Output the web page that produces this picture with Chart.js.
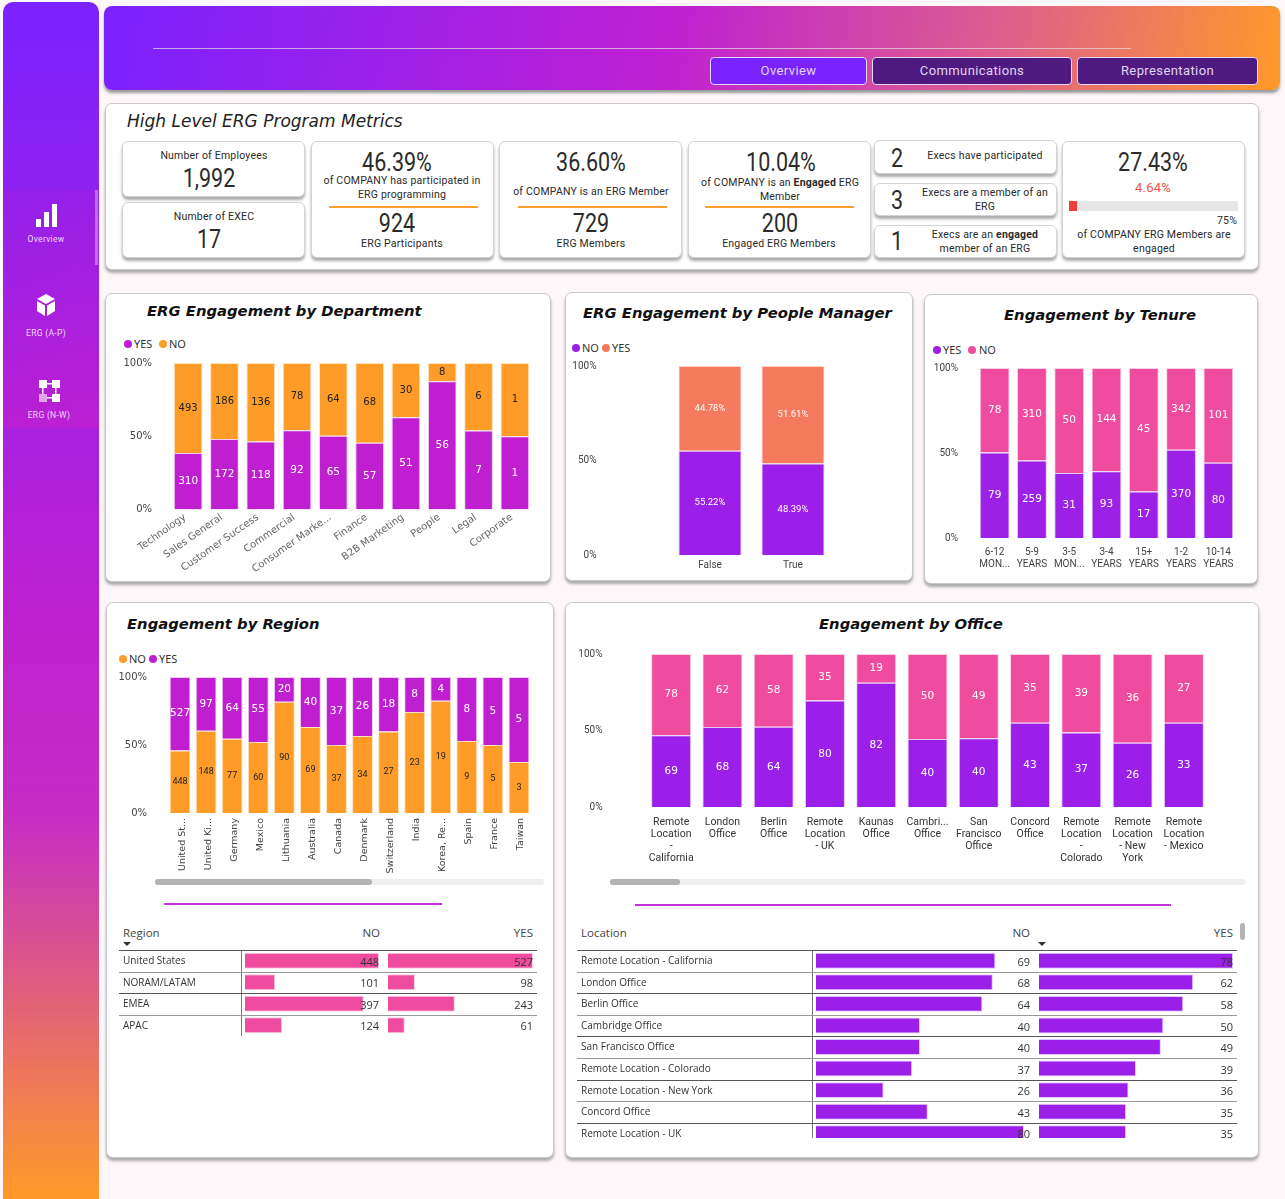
<!DOCTYPE html>
<html>
<head>
<meta charset="utf-8">
<title>ERG Overview</title>
<script src="https://cdn.jsdelivr.net/npm/chart.js@4/dist/chart.umd.min.js"></script>
<style>
    html, body { margin: 0; padding: 0; background: #fdf7f9; }
    #page { position: relative; width: 1285px; height: 1199px; overflow: hidden; font-family: Roboto, sans-serif; color: #222; }
    #page > * { position: absolute; }
    .side { left: 3px; top: 2px; width: 96px; height: 1197px; border-radius: 10px 10px 0 0; background: linear-gradient(180deg, #7a22ff 0%, #bf20d0 52%, #c72cc4 68%, #ff9a28 100%); }
    .sidepatch { left: 3px; top: 190px; width: 96px; height: 238px; background: linear-gradient(165deg, #9320ea, #bd1fd2); }
    .sidethumb { left: 95px; top: 190px; width: 3px; height: 75px; background: rgba(255,255,255,.35); }
    .sidetxt { font-size: 8.5px; letter-spacing: .3px; color: #f0d8fa; transform: translate(-50%, -50%); white-space: nowrap; }
    .head { left: 104px; top: 6px; width: 1176px; height: 84px; border-radius: 8px; background: linear-gradient(100deg, #7a22ff 0%, #bf20d2 48%, #dd5f8c 76%, #ff9a28 100%); box-shadow: 0 3px 3px #999; }
    .btn { top: 57px; height: 26px; border: 1px solid #e4d8f4; border-radius: 4px; background: #4f1a80; color: #e2d4f2; font-size: 13px; letter-spacing: .4px; line-height: 26px; text-align: center; }
    .panel { background: #fff; border: 1px solid #c8c8c8; border-radius: 7px; box-shadow: 0 3px 3px #aaa; box-sizing: border-box; }
    .card { background: #fff; border: 1px solid #d4d4d4; border-radius: 6px; box-shadow: 0 3px 3px #aaa; box-sizing: border-box; }
    .t { transform: translate(-50%, -50%); white-space: nowrap; font-size: 10.5px; letter-spacing: .2px; color: #2a2a2a; }
    .big { font-size: 25px; letter-spacing: 0; transform: translate(-50%, -50%) scaleX(.86); color: #2b2b2b; }
    .rule { height: 2px; background: #ff9c30; }
    .title { font-family: "DejaVu Sans", sans-serif; font-weight: bold; font-style: italic; font-size: 14.8px; color: #111; transform: translateY(-50%); white-space: nowrap; }
    .dot { width: 8px; height: 8px; border-radius: 50%; transform: translate(-50%, -50%); }
    .leg { font-family: "Noto Sans", sans-serif; font-size: 11px; color: #333; transform: translateY(-50%); }
    .cell { font-family: "Open Sans", sans-serif; font-size: 10px; color: #333; transform: translateY(-50%); white-space: nowrap; }
    .hcell { font-family: "Open Sans", sans-serif; font-size: 11.5px; color: #444; transform: translateY(-50%); white-space: nowrap; }
    .line { background: #666; height: 1px; }
    .vline { background: #777; width: 1px; }
    .pline { height: 2px; background: #c62fdc; }
    .track { height: 6px; background: #eeeeee; border-radius: 3px; }
    .thumb { height: 6px; background: #b3b3b3; border-radius: 3px; }
    .sort { width: 0; height: 0; border-left: 4px solid transparent; border-right: 4px solid transparent; border-top: 4px solid #333; }
    canvas { display: block; }
</style>
</head>
<body>
<div id="page">
    <div class="side"></div>
    <div class="sidepatch"></div>
    <div class="sidethumb"></div>
    <svg style="left:36px;top:204px" width="22" height="23" viewBox="0 0 22 23" fill="#fff"><rect x="0" y="15" width="5" height="8"/><rect x="8" y="8" width="5" height="15"/><rect x="16" y="0" width="5" height="23"/></svg>
    <div class="sidetxt" style="left:46px;top:239px">Overview</div>
    <svg style="left:37px;top:294px" width="18" height="22" viewBox="0 0 18 22" fill="#fff"><path d="M9 0l9 5-9 5-9-5z"/><path d="M0 7l8 4.6V22L0 17z"/><path d="M18 7l-8 4.6V22l8-5z"/></svg>
    <div class="sidetxt" style="left:46px;top:333px">ERG (A-P)</div>
    <svg style="left:39px;top:380px" width="21" height="22" viewBox="0 0 21 22" fill="#fff"><rect x="0" y="0" width="8" height="8"/><rect x="13" y="0" width="8" height="8"/><rect x="0" y="14" width="8" height="8" opacity=".6"/><rect x="13" y="14" width="8" height="8"/><rect x="8" y="3" width="5" height="1.5"/><rect x="8" y="17" width="5" height="1.5"/><rect x="3" y="8" width="1.5" height="6"/><rect x="16" y="8" width="1.5" height="6"/></svg>
    <div class="sidetxt" style="left:49px;top:415px">ERG (N-W)</div>

    <div class="head"></div>
    <div style="left:153px;top:48px;width:978px;height:1px;background:rgba(225,225,225,.7)"></div>
    <div class="btn" style="left:710px;width:155px;background:#7a22ff">Overview</div>
    <div class="btn" style="left:872px;width:198px">Communications</div>
    <div class="btn" style="left:1077px;width:179px">Representation</div>

    <div class="panel" style="left:105px;top:103px;width:1154px;height:167px"></div>
    <div style="left:127px;top:111px;font-family:'DejaVu Sans',sans-serif;font-style:italic;font-size:17px;color:#222;white-space:nowrap">High Level ERG Program Metrics</div>

    <div class="card" style="left:122px;top:141px;width:183px;height:56px"></div>
    <div class="t" style="left:214px;top:155px">Number of Employees</div>
    <div class="t big" style="left:209px;top:178px">1,992</div>
    <div class="card" style="left:122px;top:202px;width:183px;height:56px"></div>
    <div class="t" style="left:214px;top:216px">Number of EXEC</div>
    <div class="t big" style="left:209px;top:239px">17</div>

    <div class="card" style="left:311px;top:141px;width:183px;height:117px"></div>
    <div class="t big" style="left:397px;top:162px">46.39%</div>
    <div class="t" style="left:402px;top:180px">of COMPANY has participated in</div>
    <div class="t" style="left:402px;top:194px">ERG programming</div>
    <div class="rule" style="left:329px;top:206px;width:149px"></div>
    <div class="t big" style="left:397px;top:223px">924</div>
    <div class="t" style="left:402px;top:243px">ERG Participants</div>

    <div class="card" style="left:499px;top:141px;width:183px;height:117px"></div>
    <div class="t big" style="left:591px;top:162px">36.60%</div>
    <div class="t" style="left:591px;top:191px">of COMPANY is an ERG Member</div>
    <div class="rule" style="left:518px;top:206px;width:149px"></div>
    <div class="t big" style="left:591px;top:223px">729</div>
    <div class="t" style="left:591px;top:243px">ERG Members</div>

    <div class="card" style="left:688px;top:141px;width:183px;height:117px"></div>
    <div class="t big" style="left:781px;top:162px">10.04%</div>
    <div class="t" style="left:780px;top:182px">of COMPANY is an <b>Engaged</b> ERG</div>
    <div class="t" style="left:780px;top:196px">Member</div>
    <div class="rule" style="left:705px;top:206px;width:149px"></div>
    <div class="t big" style="left:780px;top:223px">200</div>
    <div class="t" style="left:779px;top:243px">Engaged ERG Members</div>

    <div class="card" style="left:874px;top:140px;width:183px;height:34px"></div>
    <div class="t big" style="left:897px;top:158px">2</div>
    <div class="t" style="left:985px;top:155px">Execs have participated</div>
    <div class="card" style="left:874px;top:183px;width:183px;height:33px"></div>
    <div class="t big" style="left:897px;top:200px">3</div>
    <div class="t" style="left:985px;top:192px">Execs are a member of an</div>
    <div class="t" style="left:985px;top:206px">ERG</div>
    <div class="card" style="left:874px;top:225px;width:183px;height:33px"></div>
    <div class="t big" style="left:897px;top:241px">1</div>
    <div class="t" style="left:985px;top:234px">Execs are an <b>engaged</b></div>
    <div class="t" style="left:985px;top:248px">member of an ERG</div>

    <div class="card" style="left:1062px;top:141px;width:183px;height:117px"></div>
    <div class="t big" style="left:1153px;top:162px">27.43%</div>
    <div class="t" style="left:1153px;top:187px;font-size:13px;color:#f0524a">4.64%</div>
    <div style="left:1069px;top:201px;width:169px;height:10px;background:#e6e6e6"></div>
    <div style="left:1069px;top:201px;width:8px;height:10px;background:#f03e3e"></div>
    <div class="t" style="left:1227px;top:220px">75%</div>
    <div class="t" style="left:1154px;top:234px">of COMPANY ERG Members are</div>
    <div class="t" style="left:1154px;top:248px">engaged</div>

    <div class="panel" style="left:105px;top:293px;width:446px;height:289px"></div>
    <div class="title" style="left:147px;top:310px">ERG Engagement by Department</div>
    <div class="dot" style="left:128px;top:344px;background:#bf1fd0"></div>
    <div class="leg" style="left:134px;top:343px">YES</div>
    <div class="dot" style="left:163px;top:344px;background:#ff9c27"></div>
    <div class="leg" style="left:169px;top:343px">NO</div>

    <div class="panel" style="left:565px;top:292px;width:348px;height:289px"></div>
    <div class="title" style="left:583px;top:312px">ERG Engagement by People Manager</div>
    <div class="dot" style="left:576px;top:348px;background:#9b1fe8"></div>
    <div class="leg" style="left:582px;top:347px">NO</div>
    <div class="dot" style="left:606px;top:348px;background:#f5795c"></div>
    <div class="leg" style="left:612px;top:347px">YES</div>

    <div class="panel" style="left:924px;top:294px;width:334px;height:290px"></div>
    <div class="title" style="left:1004px;top:314px">Engagement by Tenure</div>
    <div class="dot" style="left:937px;top:350px;background:#9d20e6"></div>
    <div class="leg" style="left:943px;top:349px">YES</div>
    <div class="dot" style="left:972px;top:350px;background:#ef4b9f"></div>
    <div class="leg" style="left:979px;top:349px">NO</div>

    <div class="panel" style="left:106px;top:602px;width:448px;height:556px"></div>
    <div class="title" style="left:127px;top:623px">Engagement by Region</div>
    <div class="dot" style="left:123px;top:659px;background:#ff9c27"></div>
    <div class="leg" style="left:129px;top:658px">NO</div>
    <div class="dot" style="left:153px;top:659px;background:#bf1fd0"></div>
    <div class="leg" style="left:159px;top:658px">YES</div>
    <div class="track" style="left:155px;top:879px;width:389px"></div>
    <div class="thumb" style="left:155px;top:879px;width:217px"></div>
    <div class="pline" style="left:164px;top:903px;width:278px"></div>

    <div class="panel" style="left:565px;top:602px;width:694px;height:556px"></div>
    <div class="title" style="left:819px;top:623px">Engagement by Office</div>
    <div class="track" style="left:610px;top:879px;width:636px"></div>
    <div class="thumb" style="left:610px;top:879px;width:70px"></div>
    <div class="pline" style="left:635px;top:904px;width:536px"></div>

    <div class="hcell" style="left:123px;top:932px">Region</div>
    <div class="hcell" style="right:905px;top:932px">NO</div>
    <div class="hcell" style="right:752px;top:932px">YES</div>
    <div class="sort" style="left:123px;top:942px"></div>
    <div class="hcell" style="left:581px;top:932px">Location</div>
    <div class="hcell" style="right:255px;top:932px">NO</div>
    <div class="hcell" style="right:52px;top:932px">YES</div>
    <div class="sort" style="left:1038px;top:942px"></div>
    <div style="left:1240px;top:923px;width:5px;height:17px;background:#b3b3b3;border-radius:3px"></div>
    <div class="vline" style="left:241px;top:950px;height:86px"></div>
    <div class="vline" style="left:812px;top:950px;height:188px"></div>
</div>

<script>
    // Chart data
    const deptLabels = ['Technology', 'Sales General', 'Customer Success', 'Commercial', 'Consumer Marke...', 'Finance', 'B2B Marketing', 'People', 'Legal', 'Corporate'];
    const deptYes = [310, 172, 118, 92, 65, 57, 51, 56, 7, 1];
    const deptNo = [493, 186, 136, 78, 64, 68, 30, 8, 6, 1];

    const managerLabels = ['False', 'True'];
    const managerNoPct = [55.22, 48.39];
    const managerYesPct = [44.78, 51.61];

    const tenureLabels = [['6-12', 'MON...'], ['5-9', 'YEARS'], ['3-5', 'MON...'], ['3-4', 'YEARS'], ['15+', 'YEARS'], ['1-2', 'YEARS'], ['10-14', 'YEARS']];
    const tenureYes = [79, 259, 31, 93, 17, 370, 80];
    const tenureNo = [78, 310, 50, 144, 45, 342, 101];

    const regionLabels = ['United St...', 'United Ki...', 'Germany', 'Mexico', 'Lithuania', 'Australia', 'Canada', 'Denmark', 'Switzerland', 'India', 'Korea, Re...', 'Spain', 'France', 'Taiwan'];
    const regionNo = [448, 148, 77, 60, 90, 69, 37, 34, 27, 23, 19, 9, 5, 3];
    const regionYes = [527, 97, 64, 55, 20, 40, 37, 26, 18, 8, 4, 8, 5, 5];

    const officeLabels = [['Remote', 'Location', '-', 'California'], ['London', 'Office'], ['Berlin', 'Office'], ['Remote', 'Location', '- UK'], ['Kaunas', 'Office'], ['Cambri...', 'Office'], ['San', 'Francisco', 'Office'], ['Concord', 'Office'], ['Remote', 'Location', '-', 'Colorado'], ['Remote', 'Location', '- New', 'York'], ['Remote', 'Location', '- Mexico']];
    const officeNo = [69, 68, 64, 80, 82, 40, 40, 43, 37, 26, 33];
    const officeYes = [78, 62, 58, 35, 19, 50, 49, 35, 39, 36, 27];

    const tableRegions = ['United States', 'NORAM/LATAM', 'EMEA', 'APAC'];
    const tableRegionNo = [448, 101, 397, 124];
    const tableRegionYes = [527, 98, 243, 61];

    const tableOffices = ['Remote Location - California', 'London Office', 'Berlin Office', 'Cambridge Office', 'San Francisco Office', 'Remote Location - Colorado', 'Remote Location - New York', 'Concord Office', 'Remote Location - UK'];
    const tableOfficeNo = [69, 68, 64, 40, 40, 37, 26, 43, 80];
    const tableOfficeYes = [78, 62, 58, 50, 49, 39, 36, 35, 35];

    const ORANGE = '#ff9c27', MAGENTA = '#bf1fd0', VIOLET = '#9b1fe8', PINK = '#ef4b9f', SALMON = '#f5795c';
    const ROW = 21.6;

    const page = document.getElementById('page');
    Chart.defaults.animation = false;
    Chart.defaults.responsive = false;
    Chart.defaults.plugins.legend.display = false;
    Chart.defaults.plugins.tooltip.enabled = false;

    // draws the count inside each stacked bar
    const barLabels = {
        id: 'barLabels',
        afterDatasetsDraw(chart) {
            const ctx = chart.ctx;
            ctx.save();
            ctx.textAlign = 'center';
            ctx.textBaseline = 'middle';
            chart.data.datasets.forEach((ds, i) => {
                ctx.fillStyle = ds.labelColor;
                ctx.font = ds.labelFont;
                chart.getDatasetMeta(i).data.forEach((bar, j) => {
                    const p = bar.getCenterPoint();
                    ctx.fillText(ds.shown[j], p.x, p.y);
                });
            });
            ctx.restore();
        }
    };

    // right aligned value at the end of each table row
    const rowValues = {
        id: 'rowValues',
        afterDatasetsDraw(chart) {
            const ctx = chart.ctx;
            const ds = chart.data.datasets[0];
            ctx.save();
            ctx.textAlign = 'right';
            ctx.textBaseline = 'middle';
            ctx.fillStyle = '#333';
            ctx.font = '11px "Open Sans"';
            chart.getDatasetMeta(0).data.forEach((bar, j) => {
                ctx.fillText(ds.data[j], chart.width, bar.y + 2);
            });
            ctx.restore();
        }
    };

    function addCanvas(box, parent) {
        const c = document.createElement('canvas');
        c.width = box.w;
        c.height = box.h;
        c.style.position = 'absolute';
        c.style.left = box.x + 'px';
        c.style.top = box.y + 'px';
        (parent || page).appendChild(c);
        return c;
    }

    const shareOf = (a, b) => a.map((v, i) => v / (v + b[i]) * 100);

    function stackedChart(o) {
        const box = o.box, plot = o.plot;
        const tickFont = o.tickFont || { family: 'Roboto', size: 10 };
        new Chart(addCanvas(box), {
            type: 'bar',
            data: {
                labels: o.labels,
                datasets: o.series.map(s => ({
                    label: s.name,
                    data: s.data,
                    shown: s.shown,
                    labelColor: s.labelColor,
                    labelFont: s.labelFont,
                    backgroundColor: s.color,
                    borderColor: s.border,
                    borderWidth: 1,
                    barPercentage: o.barPct,
                    categoryPercentage: 1
                }))
            },
            plugins: [barLabels],
            options: {
                layout: { padding: { top: plot.top - box.y, right: box.x + box.w - plot.right, left: 0, bottom: 0 } },
                scales: {
                    x: {
                        stacked: true,
                        grid: { display: false, drawTicks: false },
                        border: { display: false },
                        ticks: {
                            autoSkip: false,
                            minRotation: o.rotation || 0,
                            maxRotation: o.rotation || 0,
                            padding: o.xPad,
                            labelOffset: o.labelOffset || 0,
                            color: o.tickColor || '#444',
                            font: tickFont
                        },
                        afterFit: s => { s.height = box.y + box.h - plot.bottom; }
                    },
                    y: {
                        stacked: true,
                        min: 0,
                        max: 100,
                        grid: { display: false, drawTicks: false },
                        border: { display: false },
                        ticks: {
                            stepSize: 50,
                            padding: o.yPad,
                            color: '#444',
                            font: { family: o.yFamily || 'Roboto', size: 10 },
                            callback: v => v + '%'
                        },
                        afterFit: s => {
                            s.width = plot.left - box.x;
                            // tick padding also ends up as vertical margin otherwise
                            s.paddingTop = 0;
                            s.paddingBottom = 0;
                        }
                    }
                }
            }
        });
    }

    const WHITE_LABEL = '10.5px "DejaVu Sans"';
    const DARK = '10px "DejaVu Sans"';

    stackedChart({
        box: { x: 106, y: 340, w: 444, h: 240 },
        plot: { left: 170, right: 533, top: 363, bottom: 509.5 },
        labels: deptLabels,
        barPct: 0.79,
        rotation: 35,
        xPad: 2,
        yPad: 18,
        labelOffset: -3,
        yFamily: 'DejaVu Sans',
        tickColor: '#666',
        tickFont: { family: 'DejaVu Sans', size: 10 },
        series: [
            { name: 'YES', data: shareOf(deptYes, deptNo), shown: deptYes, color: MAGENTA, border: 'rgba(240,190,240,.8)', labelColor: '#fff', labelFont: WHITE_LABEL },
            { name: 'NO', data: shareOf(deptNo, deptYes), shown: deptNo, color: ORANGE, border: 'rgba(255,220,170,.8)', labelColor: '#222', labelFont: DARK }
        ]
    });

    stackedChart({
        box: { x: 566, y: 345, w: 346, h: 235 },
        plot: { left: 668.5, right: 834.5, top: 366, bottom: 555 },
        labels: managerLabels,
        barPct: 0.76,
        xPad: 4,
        yPad: 72,
        series: [
            { name: 'NO', data: managerNoPct, shown: managerNoPct.map(v => v.toFixed(2) + '%'), color: VIOLET, border: 'rgba(215,190,245,.8)', labelColor: '#fff', labelFont: '9.5px Roboto' },
            { name: 'YES', data: managerYesPct, shown: managerYesPct.map(v => v.toFixed(2) + '%'), color: SALMON, border: 'rgba(250,205,190,.8)', labelColor: '#fff', labelFont: '9.5px Roboto' }
        ]
    });

    stackedChart({
        box: { x: 925, y: 345, w: 332, h: 238 },
        plot: { left: 976, right: 1237, top: 368, bottom: 538 },
        labels: tenureLabels,
        barPct: 0.8,
        xPad: 8,
        yPad: 18,
        series: [
            { name: 'YES', data: shareOf(tenureYes, tenureNo), shown: tenureYes, color: '#9d20e6', border: 'rgba(215,190,245,.8)', labelColor: '#fff', labelFont: WHITE_LABEL },
            { name: 'NO', data: shareOf(tenureNo, tenureYes), shown: tenureNo, color: PINK, border: 'rgba(250,195,220,.8)', labelColor: '#fff', labelFont: WHITE_LABEL }
        ]
    });

    stackedChart({
        box: { x: 107, y: 665, w: 446, h: 212 },
        plot: { left: 167, right: 532, top: 677, bottom: 813 },
        labels: regionLabels,
        barPct: 0.8,
        rotation: 90,
        xPad: 5,
        yPad: 20,
        labelOffset: 2,
        yFamily: 'DejaVu Sans',
        tickFont: { family: 'DejaVu Sans', size: 9.5 },
        series: [
            { name: 'NO', data: shareOf(regionNo, regionYes), shown: regionNo, color: ORANGE, border: 'rgba(255,220,170,.8)', labelColor: '#222', labelFont: '9px Roboto' },
            { name: 'YES', data: shareOf(regionYes, regionNo), shown: regionYes, color: MAGENTA, border: 'rgba(240,190,240,.8)', labelColor: '#fff', labelFont: WHITE_LABEL }
        ]
    });

    stackedChart({
        box: { x: 566, y: 640, w: 692, h: 235 },
        plot: { left: 645.5, right: 1209.5, top: 654, bottom: 807 },
        labels: officeLabels,
        barPct: 0.78,
        xPad: 9,
        yPad: 43,
        tickFont: { family: 'Roboto', size: 10.5, lineHeight: 1.14 },
        tickColor: '#333',
        series: [
            { name: 'NO', data: shareOf(officeNo, officeYes), shown: officeNo, color: VIOLET, border: 'rgba(215,190,245,.8)', labelColor: '#fff', labelFont: WHITE_LABEL },
            { name: 'YES', data: shareOf(officeYes, officeNo), shown: officeYes, color: PINK, border: 'rgba(250,195,220,.8)', labelColor: '#fff', labelFont: WHITE_LABEL }
        ]
    });

    // one small horizontal bar chart per table column
    function columnChart(o) {
        const wrap = document.createElement('div');
        wrap.style.cssText = `left:${o.x}px;top:950px;width:${o.w}px;height:${o.clip}px;overflow:hidden`;
        page.appendChild(wrap);
        new Chart(addCanvas({ x: 0, y: 0, w: o.w, h: Math.round(ROW * o.labels.length) }, wrap), {
            type: 'bar',
            data: {
                labels: o.labels,
                datasets: [{ data: o.values, backgroundColor: o.color, borderColor: o.border, borderWidth: 1, barPercentage: 0.74, categoryPercentage: 1 }]
            },
            plugins: [rowValues],
            options: {
                indexAxis: 'y',
                layout: { padding: { right: o.gap || 0 } },
                scales: {
                    x: { display: false, min: 0, max: Math.max(...o.values) },
                    y: { display: false }
                }
            }
        });
    }

    function tableRows(names, left, right, textX) {
        names.forEach((name, i) => {
            const y = 950 + ROW * i;
            page.insertAdjacentHTML('beforeend', `<div class="line" style="left:${left}px;top:${Math.round(y)}px;width:${right - left}px;background:${i % 2 ? '#999' : '#555'}"></div>`);
            page.insertAdjacentHTML('beforeend', `<div class="cell" style="left:${textX}px;top:${Math.round(y + 10)}px">${name}</div>`);
        });
    }

    columnChart({ x: 245, w: 134, clip: 87, labels: tableRegions, values: tableRegionNo, color: PINK, border: 'rgba(250,195,220,.8)' });
    columnChart({ x: 388, w: 145, clip: 87, labels: tableRegions, values: tableRegionYes, color: PINK, border: 'rgba(250,195,220,.8)' });
    columnChart({ x: 816, w: 214, gap: 6, clip: 188, labels: tableOffices, values: tableOfficeNo, color: VIOLET, border: 'rgba(215,190,245,.8)' });
    columnChart({ x: 1039, w: 194, clip: 188, labels: tableOffices, values: tableOfficeYes, color: VIOLET, border: 'rgba(215,190,245,.8)' });

    tableRows(tableRegions, 119, 537, 123);
    tableRows(tableOffices, 577, 1237, 581);
</script>
</body>
</html>
